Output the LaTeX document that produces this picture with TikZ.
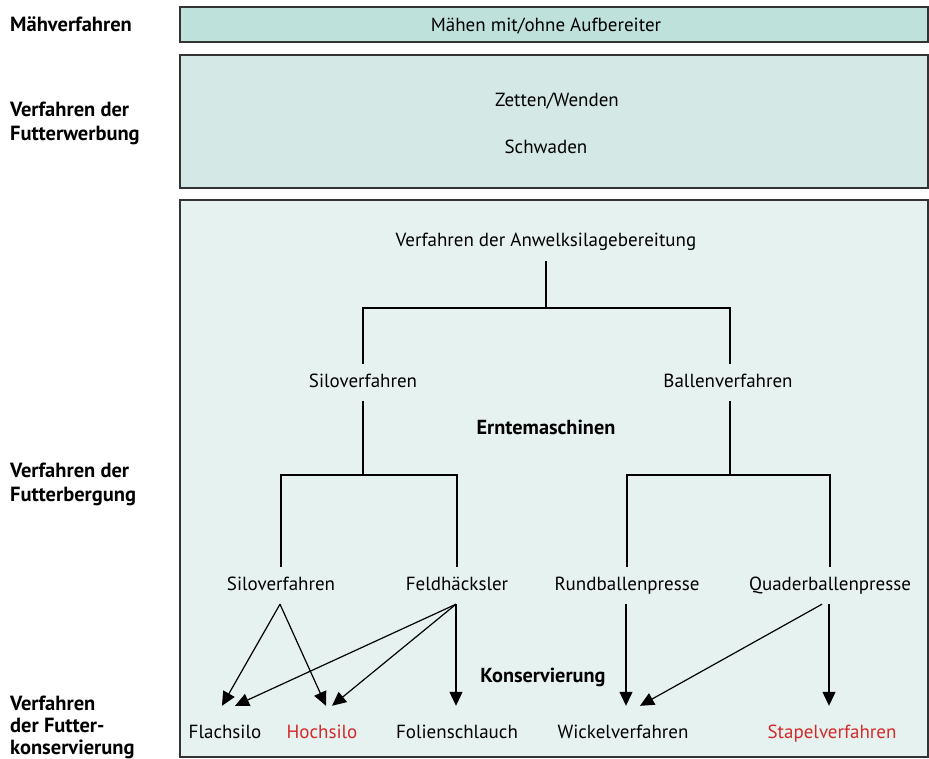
\documentclass[tikz,border=0pt]{standalone}
\usepackage{fontspec}
\setmainfont{PT Sans}
\usetikzlibrary{arrows.meta}
\definecolor{boxA}{HTML}{BFE1DB}
\definecolor{boxB}{HTML}{D4E9E6}
\definecolor{boxC}{HTML}{E6F2F0}
\definecolor{bordc}{HTML}{333333}
\definecolor{redtxt}{HTML}{D42A2A}
\tikzset{
  panel/.style={draw=bordc, line width=1.4pt},
  lbl/.style={anchor=base west, inner sep=0pt, font=\fontsize{20.5}{24}\selectfont\bfseries, align=left},
  txt/.style={anchor=base, inner xsep=2pt, inner ysep=10pt, text height=13pt, text depth=4pt, font=\fontsize{19}{23}\selectfont},
  bot/.style={txt, inner ysep=19pt},
  head/.style={txt, font=\fontsize{20.3}{24}\selectfont\bfseries},
  conn/.style={line width=1.2pt},
  arr/.style={line width=1.2pt, -{Triangle[length=14pt,width=13pt]}},
}
\begin{document}
\begin{tikzpicture}[x=1pt,y=-1pt]
\useasboundingbox (0,0) rectangle (929,759);
% panels
\draw[panel, fill=boxA] (180,7) rectangle (928,42);
\draw[panel, fill=boxB] (180,55) rectangle (928,188);
\draw[panel, fill=boxC] (180,200) rectangle (928,757);
% left labels
\node[lbl] (l1) at (10,32) {Mähverfahren};
\node[lbl] (l2a) at (10,117) {Verfahren der};
\node[lbl] (l2b) at (10,141) {Futterwerbung};
\node[lbl] (l3a) at (10,477) {Verfahren der};
\node[lbl] (l3b) at (10,501) {Futterbergung};
\node[lbl] (l4a) at (10,710) {Verfahren};
\node[lbl] (l4b) at (10,732) {der Futter-};
\node[lbl] (l4c) at (10,754) {konservierung};
% panel texts
\node[txt] (maeh) at (546,32) {Mähen mit/ohne Aufbereiter};
\node[txt] (zet) at (557,107) {Zetten/Wenden};
\node[txt] (sch) at (546,154) {Schwaden};
\node[txt] (anw) at (546,247) {Verfahren der Anwelksilagebereitung};
\node[txt] (sv1) at (363,387) {Siloverfahren};
\node[txt] (bv) at (728,387) {Ballenverfahren};
\node[head] (ernte) at (546,434) {Erntemaschinen};
\node[txt] (sv2) at (281,590) {Siloverfahren};
\node[txt] (fh) at (457,590) {Feldhäcksler};
\node[txt] (rb) at (627,590) {Rundballenpresse};
\node[txt] (qb) at (830,590) {Quaderballenpresse};
\node[head] (kons) at (543,682) {Konservierung};
\node[bot] (fl) at (225,738) {Flachsilo};
\node[bot, text=redtxt] (ho) at (322,738) {Hochsilo};
\node[bot] (fo) at (457,738) {Folienschlauch};
\node[bot] (wi) at (623,738) {Wickelverfahren};
\node[bot, text=redtxt] (st) at (832,738) {Stapelverfahren};
% tree
\coordinate (j1) at (546,308);
\coordinate (j2) at (363,475);
\coordinate (j3) at (730,475);
\draw[conn] (anw.south) -- (j1);
\draw[conn] (sv1.north) |- (j1) -| ([xshift=2pt]bv.north);
\draw[conn] (sv1.south) -- (j2);
\draw[conn] (sv2.north) |- (j2) -| (fh.north);
\draw[conn] ([xshift=2pt]bv.south) -- (j3);
\draw[conn] (rb.north) |- (j3) -| (qb.north);
% arrows
\draw[arr] ([xshift=-1pt]sv2.south) -- ([xshift=-3pt]fl.north);
\draw[arr] ([xshift=-1pt]sv2.south) -- ([xshift=4pt]ho.north);
\draw[arr] ([xshift=-1pt]fh.south) -- ([xshift=10pt]fl.north);
\draw[arr] ([xshift=-1pt]fh.south) -- ([xshift=10pt]ho.north);
\draw[arr] ([xshift=-1pt]fh.south) -- ([xshift=-1pt]fh.south |- fo.north);
\draw[arr] ([xshift=-1pt]rb.south) -- ([xshift=-1pt]rb.south |- wi.north);
\draw[arr] ([xshift=-8pt]qb.south) -- ([xshift=17pt]wi.north);
\draw[arr] ([xshift=-1pt]qb.south) -- ([xshift=-1pt]qb.south |- st.north);
\end{tikzpicture}
\end{document}
